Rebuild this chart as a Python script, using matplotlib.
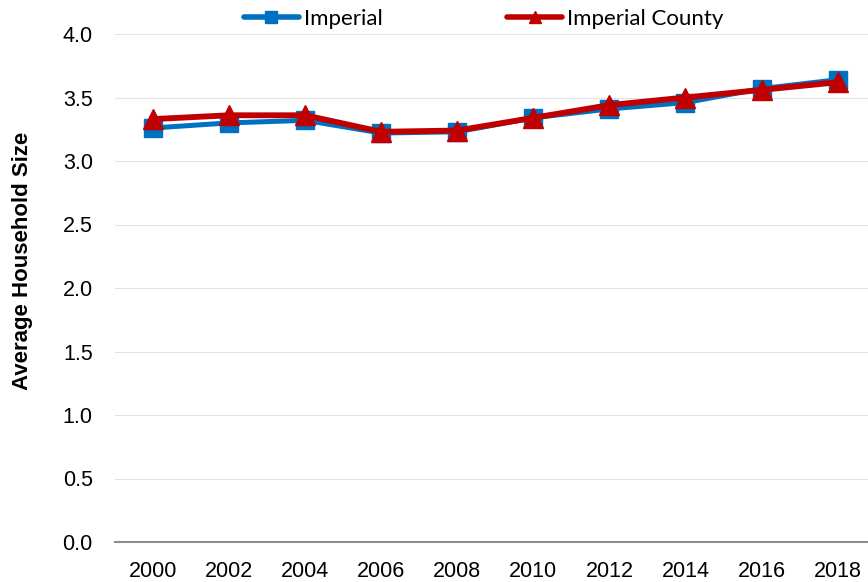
import matplotlib
matplotlib.use("Agg")
import matplotlib.pyplot as plt
from matplotlib.lines import Line2D

years = ["2000", "2002", "2004", "2006", "2008", "2010", "2012", "2014", "2016", "2018"]
imperial = [3.26, 3.30, 3.32, 3.22, 3.23, 3.34, 3.41, 3.46, 3.57, 3.64]
imperial_county = [3.33, 3.36, 3.36, 3.23, 3.24, 3.34, 3.44, 3.50, 3.56, 3.62]
yticks = [0.0, 0.5, 1.0, 1.5, 2.0, 2.5, 3.0, 3.5, 4.0]

blue = "#0070C0"
red = "#C00000"

fig = plt.figure(figsize=(8.68, 5.82), dpi=100)
ax = fig.add_axes([115/868, 40/582, 1 - 115/868, (542 - 34)/582])

x = list(range(len(years)))
ax.plot(x, imperial, color=blue, lw=3.6, marker="s", ms=13.5, mec=blue, zorder=3)
ax.plot(x, imperial_county, color=red, lw=4.2, marker="^", ms=14, mec=red, zorder=4)

ax.set_xlim(-0.5, 9.4)
ax.set_ylim(0, 4.0)
ax.set_xticks(x)
ax.set_xticklabels(years, fontsize=15.5, family="Liberation Sans")
ax.set_yticks(yticks)
ax.set_yticklabels([f"{v:.1f}" for v in yticks], fontsize=15.5, family="Liberation Sans")
ax.tick_params(axis="both", length=0)
ax.tick_params(axis="x", pad=14)
ax.tick_params(axis="y", pad=16)

for v in yticks[1:]:
    ax.axhline(v, color="#C8C8C8", lw=0.8, ls=(0, (1.2, 1.2)), zorder=1)

for s in ["top", "right", "left"]:
    ax.spines[s].set_visible(False)
ax.spines["bottom"].set_color("#8C8C8C")
ax.spines["bottom"].set_linewidth(1.5)

ax.set_ylabel("Average Household Size", fontsize=16, fontweight="bold",
              family="Liberation Sans")
ax.yaxis.set_label_coords(-82/753, (542 - 261)/508)

handles = [
    Line2D([], [], color=blue, lw=4, marker="s", ms=9, solid_capstyle="round"),
    Line2D([], [], color=red, lw=4, marker="^", ms=9, solid_capstyle="round"),
]
fig.legend(handles, ["Imperial", "Imperial County"], loc="center",
           bbox_to_anchor=(0.557, 1 - 19/582), ncol=2, frameon=False,
           prop={"family": "Lato", "size": 16}, handlelength=2.5,
           handletextpad=0.2, columnspacing=5.6, borderpad=0, borderaxespad=0)

fig.savefig("out.png", dpi=100)
